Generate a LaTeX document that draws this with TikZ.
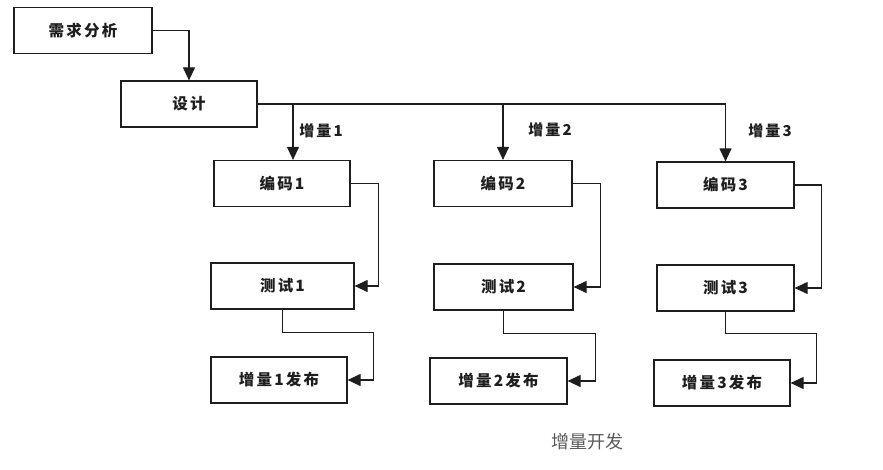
\documentclass[tikz,border=0pt]{standalone}
\usepackage{fontspec}
\newfontfamily\cjk[LetterSpace=14]{Noto Sans CJK SC}
\newfontfamily\cjkcap{Noto Sans CJK SC}
\usetikzlibrary{arrows.meta,calc}
\definecolor{ink}{HTML}{1E1E1E}
\definecolor{capgray}{HTML}{5A5A5A}
\tikzset{
  boxnode/.style={draw=ink, line width=1.2pt, fill=white, minimum height=46pt, inner sep=0pt,
                  font=\cjk\bfseries\fontsize{15.5}{17}\selectfont, text=ink},
  arr/.style={draw=ink, line width=1.1pt, -{Triangle[length=13pt,width=12pt]}},
  lbl/.style={font=\cjk\bfseries\fontsize{15}{17}\selectfont, text=ink, inner sep=0pt},
}
\begin{document}
\begin{tikzpicture}[x=1pt,y=1pt]
\useasboundingbox (0,0) rectangle (883,-469);
% boxes (centres from reference pixels, y downward)
\node[boxnode, minimum width=138pt] (req) at (83,-30.5) {需求分析};
\node[boxnode, minimum width=136pt] (des) at (189,-104) {设计};
\node[boxnode, minimum width=136pt] (c1) at (282,-183.5) {编码1};
\node[boxnode, minimum width=143pt] (t1) at (282.5,-286) {测试1};
\node[boxnode, minimum width=136pt] (r1) at (279,-380) {增量1发布};
\node[boxnode, minimum width=138pt] (c2) at (503,-183.5) {编码2};
\node[boxnode, minimum width=139pt] (t2) at (503.5,-287) {测试2};
\node[boxnode, minimum width=137pt] (r2) at (498.5,-381) {增量2发布};
\node[boxnode, minimum width=137pt] (c3) at (725.5,-185) {编码3};
\node[boxnode, minimum width=137pt] (t3) at (725.5,-288) {测试3};
\node[boxnode, minimum width=136pt] (r3) at (722,-383) {增量3发布};
% labels
\node[lbl] (l1) at (321,-131) {增量1};
\node[lbl] (l2) at (550,-130) {增量2};
\node[lbl] (l3) at (770,-131) {增量3};
\node[font=\cjkcap\fontsize{18}{20}\selectfont, text=capgray] (cap) at (587,-442) {增量开发};
% connectors
\draw[arr] (req.east) -| (des.north);
\draw[arr] (des.east) -| ([xshift=11pt]c1.north);
\draw[arr] (des.east) -| (c2.north);
\draw[arr] (des.east) -| (c3.north);
\draw[arr] (c1.east) -- ++(28,0) |- (t1.east);
\draw[arr] (c2.east) -- ++(28,0) |- (t2.east);
\draw[arr] (c3.east) -- ++(27,0) |- (t3.east);
\draw[arr] (t1.south) -- ++(0,-23) -| ([xshift=26pt]r1.east) -- (r1.east);
\draw[arr] (t2.south) -- ++(0,-23) -| ([xshift=28pt]r2.east) -- (r2.east);
\draw[arr] (t3.south) -- ++(0,-22) -| ([xshift=26pt]r3.east) -- (r3.east);
\end{tikzpicture}
\end{document}
